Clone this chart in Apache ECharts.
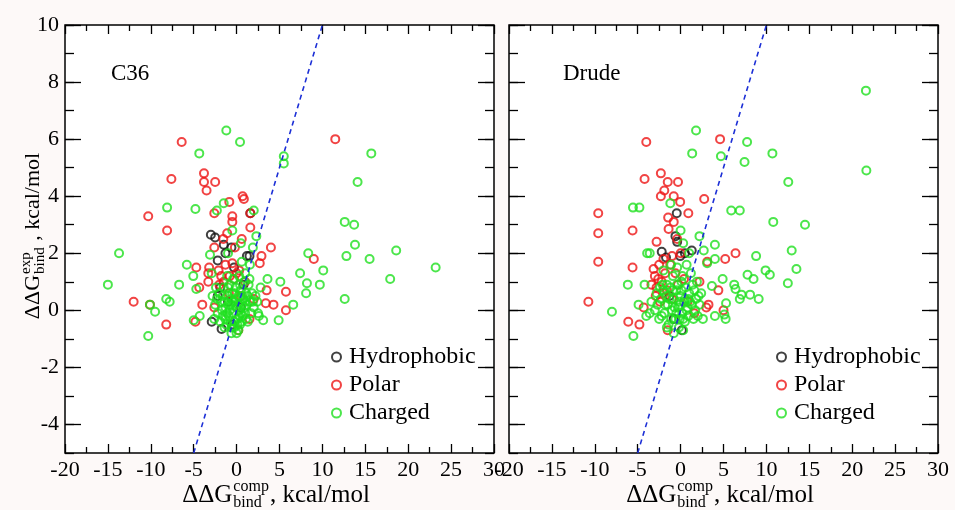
<!DOCTYPE html>
<html>
<head>
<meta charset="utf-8">
<script src="https://cdn.jsdelivr.net/npm/echarts@6/dist/echarts.min.js"></script>
<style>
html,body{margin:0;padding:0;background:#fdf9f8;}
#chart{width:955px;height:510px;}
</style>
</head>
<body>
<div id="chart"></div>
<script>
// ---------- data ----------
const panelTitles = ['C36', 'Drude'];
const seriesNames = ['Hydrophobic', 'Polar', 'Charged'];
const yLabelValues = [-4, -2, 0, 2, 4, 6, 8, 10];
const diagonal = [[-5, -5], [10, 10]];

const c36Hydrophobic = [
  [-2.5,2.55],[-1.3,2.0],[-0.6,2.2],[1.6,3.4],[1.5,1.9],[-2.9,-0.4],[-1.75,-0.65],[-1.9,0.8],
  [-2.2,1.75],[-3.0,2.65],[-1.5,2.3],[-0.3,1.5],[0.5,0.1],[-1.0,0.3],[-0.5,-0.5],[-2.2,0.5],[0.8,0.9],[1.2,1.9]
];
const c36Polar = [
  [-6.4,5.9],[11.5,6.0],[-7.6,4.6],[-3.8,4.8],[-3.8,4.5],[-2.5,4.5],[-3.5,4.2],[-10.3,3.3],[-8.1,2.8],
  [0.7,4.0],[0.85,3.9],[-0.85,3.8],[-2.6,3.4],[-0.5,3.3],[1.6,3.4],[-0.5,3.1],[1.6,2.9],[4.0,2.2],
  [9.0,1.8],[-12.0,0.3],[-8.2,-0.5],[-4.8,-0.4],[-4.7,1.5],[-3.2,1.5],[-4.35,0.8],[-3.3,1.0],[3.5,0.7],
  [5.75,0.65],[3.4,0.25],[4.3,0.2],[5.75,0.0],[-4.0,0.2],[0.2,-0.7],[-2.6,2.2],[-1.55,2.5],[0.6,2.5],
  [2.9,1.9],[2.7,1.65],[-0.5,1.65],[-2.1,1.4],[-0.8,1.2],[-3.3,1.3],[-10.1,0.2],
  [-1.5,1.0],[-0.3,1.1],[0.3,1.4],[-2.0,0.9],[-1.1,2.7],[-0.2,2.2],[1.0,1.0],[-1.3,1.6],[0.5,0.5],
  [-0.9,0.6],[2.0,0.4],[1.5,-0.3],[-2.6,0.1],[-1.8,1.2],[0.0,1.3]
];
const c36Charged = [
  [-1.2,6.3],[0.4,5.9],[-4.35,5.5],[5.5,5.4],[5.5,5.15],[15.7,5.5],[14.1,4.5],[-8.1,3.6],[-4.8,3.55],
  [-2.3,3.5],[-1.5,3.75],[2.0,3.5],[-0.5,2.8],[2.3,2.6],[0.5,2.35],[-13.7,2.0],[12.6,3.1],[13.7,3.0],
  [13.8,2.3],[12.8,1.9],[15.5,1.8],[18.6,2.1],[23.2,1.5],[17.9,1.1],[12.6,0.4],[8.35,2.0],[10.1,1.4],
  [7.4,1.3],[8.2,0.95],[9.7,0.9],[8.1,0.6],[6.6,0.2],[4.9,-0.35],[3.1,-0.35],[2.6,-0.2],[5.1,1.0],
  [3.6,1.1],[-15.0,0.9],[-10.3,-0.9],[-10.1,0.2],[-9.5,-0.05],[-8.2,0.4],[-7.8,0.3],[-6.7,0.9],
  [-5.8,1.6],[-5.05,1.2],[-4.7,0.75],[-5.0,-0.35],[-4.3,-0.2],[-3.1,1.95],[-1.0,2.0],[0.6,1.7],
  [1.55,1.6],[0.0,-0.8],[-2.9,1.3],[1.9,2.2],
  [-2.8,0.5],[-2.5,0.2],[-2.2,-0.1],[-2.0,0.6],[-1.8,0.3],[-1.6,-0.2],[-1.5,0.8],[-1.3,0.1],[-1.2,-0.5],
  [-1.0,0.5],[-0.9,-0.2],[-0.8,0.9],[-0.7,0.2],[-0.6,-0.6],[-0.5,0.6],[-0.4,-0.1],[-0.3,0.3],[-0.2,-0.4],
  [-0.1,0.8],[0.0,0.1],[0.1,-0.3],[0.2,0.5],[0.3,0.0],[0.4,-0.5],[0.5,0.7],[0.6,0.2],[0.7,-0.2],[0.8,0.4],
  [0.9,1.0],[1.0,-0.1],[1.1,0.6],[1.2,0.2],[1.3,-0.4],[1.4,0.9],[1.6,0.3],[1.8,0.6],[2.0,0.1],[2.2,0.5],
  [2.4,0.3],[-2.4,0.8],[-1.9,-0.4],[-1.1,1.2],[-0.4,1.1],[0.3,1.2],[1.0,1.3],[-0.6,-0.8],[0.2,-0.7],
  [-1.4,-0.6],[-0.8,0.0],[0.5,-0.1],[1.5,1.1],[2.8,0.8],[2.5,-0.1],
  [-2.6,-0.3],[-2.3,0.4],[-1.7,0.0],[-1.6,0.5],[-1.4,0.3],[-1.1,-0.1],[-1.0,0.8],[-0.9,0.2],[-0.7,-0.4],
  [-0.6,0.4],[-0.3,-0.6],[-0.2,0.6],[0.0,0.4],[0.1,-0.5],[0.2,0.2],[0.4,0.9],[0.6,-0.4],[0.7,0.5],
  [0.9,0.1],[1.1,-0.3],[1.3,0.5],[1.7,-0.1],[1.9,0.3],[-1.3,-0.3],[-0.4,0.3],[0.3,-0.2],[1.0,0.3]
];

const drudeHydrophobic = [
  [-0.45,3.4],[-0.4,2.4],[-2.2,2.05],[-1.7,1.85],[1.3,2.1],[0.15,-0.7],[-0.05,1.9],[-0.6,2.6],
  [0.5,2.0],[-1.3,0.5],[-0.8,-0.3]
];
const drudePolar = [
  [-4.0,5.9],[4.6,6.0],[-4.2,4.6],[-2.3,4.8],[-1.5,4.5],[-0.3,4.5],[-1.9,4.2],[-0.8,4.0],[-2.3,4.0],
  [-0.05,3.8],[2.75,3.9],[-9.6,3.4],[-9.6,2.7],[-9.6,1.7],[-5.6,2.8],[-5.6,1.5],[-2.8,2.4],[-1.45,3.25],
  [-0.8,3.1],[-1.4,2.85],[0.9,3.4],[5.2,1.8],[6.4,2.0],[3.1,1.7],[4.4,0.7],[3.25,0.2],[5.0,0.0],
  [-10.75,0.3],[-6.1,-0.4],[-4.8,-0.5],[-1.5,-0.7],[-3.15,1.45],[-2.6,1.1],[-2.8,0.8],[-2.0,0.6],
  [-4.3,0.1],[-1.0,1.9],[0.0,2.0],[-0.4,2.5],
  [-3.0,1.2],[-2.5,1.6],[-2.2,1.0],[-1.8,1.3],[-1.6,0.7],[-2.9,0.5],[-1.2,1.6],[-0.6,1.3],[-0.3,0.9],
  [0.4,1.1],[-2.4,0.3],[-1.0,0.4],[0.8,0.3],[-3.4,0.9],[-2.0,1.8],[1.6,-0.1],[2.2,1.0],[3.0,0.1]
];
const drudeCharged = [
  [21.6,7.7],[21.65,4.9],[1.8,6.3],[7.75,5.9],[1.35,5.5],[4.7,5.4],[7.45,5.2],[10.7,5.5],[12.55,4.5],
  [-5.55,3.6],[-4.8,3.6],[-1.2,3.75],[5.9,3.5],[6.9,3.5],[10.8,3.1],[14.5,3.0],[12.95,2.1],[13.5,1.45],
  [12.5,0.95],[8.8,1.9],[9.9,1.4],[10.4,1.25],[7.8,1.25],[8.5,1.1],[6.25,0.9],[6.4,0.75],[7.1,0.55],
  [8.1,0.55],[9.1,0.4],[6.9,0.4],[5.3,0.25],[5.25,-0.3],[5.1,-0.15],[4.0,-0.2],[4.9,1.1],[4.0,1.8],
  [4.0,2.3],[2.2,2.6],[0.0,2.8],[-6.15,0.9],[-4.2,0.9],[-8.0,-0.05],[-5.5,-0.9],[-4.9,0.2],[-4.0,-0.2],
  [-3.9,2.0],[-3.6,2.0],[-0.8,-0.8],[3.65,0.85],[2.7,2.1],[3.1,1.65],[0.3,2.35],
  [-3.4,0.3],[-3.0,0.0],[-2.8,0.6],[-2.5,-0.3],[-2.3,0.4],[-2.1,0.9],[-1.9,-0.1],[-1.7,0.5],[-1.5,0.2],
  [-1.4,-0.5],[-1.2,0.8],[-1.0,0.0],[-0.9,1.2],[-0.8,0.4],[-0.6,-0.3],[-0.5,0.7],[-0.3,0.1],[-0.2,-0.6],
  [0.0,0.5],[0.1,1.0],[0.2,-0.1],[0.4,0.3],[0.5,-0.4],[0.6,0.8],[0.8,0.1],[0.9,-0.2],[1.0,0.6],[1.2,1.3],
  [1.3,0.2],[1.5,-0.3],[1.6,0.7],[1.8,0.4],[2.0,-0.2],[2.2,0.2],[2.4,0.6],[2.6,-0.3],[-2.0,1.4],
  [-1.1,1.6],[-0.4,1.5],[0.7,1.6],[1.0,2.0],[-3.6,-0.1],[-1.6,-0.6],[0.3,-0.7],[-0.1,0.2],[1.9,1.0],
  [-2.7,0.2],[-2.2,-0.2],[-2.0,0.7],[-1.8,0.2],[-1.3,0.4],[-1.1,-0.3],[-0.9,0.7],[-0.7,0.1],[-0.5,-0.1],
  [-0.4,0.9],[-0.2,0.3],[0.1,0.7],[0.3,-0.3],[0.5,0.4],[0.7,0.0],[1.1,0.3],[1.4,0.9],[1.7,0.0],[2.1,0.5],
  [-1.6,0.9],[-0.1,-0.3],[0.9,0.4],[-2.4,0.8],[0.2,1.2]
];

// ---------- styling ----------
const FONT = '"Liberation Serif", "Times New Roman", serif';
const colors = {Hydrophobic: '#111111', Polar: '#ee1515', Charged: '#1fe01f'};
const panels = [
  {left: 65, title: panelTitles[0], titleX: 111, data: [c36Hydrophobic, c36Polar, c36Charged], legendLeft: 331},
  {left: 509, title: panelTitles[1], titleX: 563, data: [drudeHydrophobic, drudePolar, drudeCharged], legendLeft: 776}
];
const GW = 429, GH = 428, GT = 25;

const grid = [], xAxis = [], yAxis = [], series = [], legend = [], graphic = [];
const tickLine = {color: '#000', width: 1.3};

panels.forEach((p, g) => {
  grid.push({left: p.left, top: GT, width: GW, height: GH, show: true,
    backgroundColor: '#fff', borderColor: '#000', borderWidth: 1.5, containLabel: false});
  ['bottom', 'top'].forEach(pos => {
    xAxis.push({gridIndex: g, type: 'value', position: pos, min: -20, max: 30, interval: 5,
      axisLine: {show: false, onZero: false}, splitLine: {show: false},
      axisTick: {inside: true, length: 9, lineStyle: tickLine},
      minorTick: {show: true, splitNumber: 2, length: 6, lineStyle: tickLine},
      axisLabel: {show: pos === 'bottom', fontFamily: FONT, fontSize: 22, color: '#000', margin: 6,
        showMinLabel: true, showMaxLabel: true}
    });
  });
  ['left', 'right'].forEach(pos => {
    yAxis.push({gridIndex: g, type: 'value', position: pos, min: -5, max: 10,
      axisLine: {show: false, onZero: false}, splitLine: {show: false},
      axisTick: {inside: true, length: 16, customValues: yLabelValues, lineStyle: tickLine},
      axisLabel: {show: g === 0 && pos === 'left', customValues: yLabelValues,
        fontFamily: FONT, fontSize: 22, color: '#000', margin: 6}
    });
    yAxis.push({gridIndex: g, type: 'value', position: pos, min: -5, max: 10, interval: 1,
      axisLine: {show: false, onZero: false}, splitLine: {show: false},
      axisTick: {inside: true, length: 9, lineStyle: tickLine},
      axisLabel: {show: false}
    });
  });
  const xi = g * 2, yi = g * 4;
  seriesNames.forEach((name, k) => {
    series.push({name, type: 'scatter', xAxisIndex: xi, yAxisIndex: yi, data: p.data[k],
      symbol: 'circle', symbolSize: 8, silent: true, z: 2 + k,
      itemStyle: {color: 'rgba(0,0,0,0)', borderColor: colors[name], borderWidth: 2},
      emphasis: {disabled: true}});
  });
  series.push({type: 'line', xAxisIndex: xi, yAxisIndex: yi, data: diagonal, symbol: 'none',
    silent: true, z: 10, lineStyle: {color: '#1c2fd6', width: 1.6, type: [5, 4]}});
  legend.push({orient: 'vertical', left: p.legendLeft, top: 345, itemWidth: 9, itemHeight: 9,
    itemGap: 4, padding: 0, selectedMode: false,
    textStyle: {fontFamily: FONT, fontSize: 24, color: '#000', lineHeight: 24, padding: [0, 0, 0, 3]},
    data: seriesNames.map(name => ({name, icon: 'circle',
      itemStyle: {color: 'rgba(0,0,0,0)', borderColor: colors[name], borderWidth: 2}}))});
  graphic.push({type: 'text', x: p.titleX, y: 74,
    style: {text: p.title, fontFamily: FONT, fontSize: 23, fill: '#000', verticalAlign: 'middle'}});
});

// ---------- axis titles with stacked super/subscripts ----------
const ctx = document.createElement('canvas').getContext('2d');
function measure(t, s) { ctx.font = s + 'px "Liberation Serif"'; return ctx.measureText(t).width; }
function mathTitle(sup, sub, tail, big, small) {
  const w1 = measure('ΔΔG', big);
  const ws = Math.max(measure(sup, small), measure(sub, small));
  const tx = w1 + ws + 2;
  const total = tx + measure(tail, big);
  const st = (text, size) => ({text, fontFamily: FONT, fontSize: size, fill: '#000', verticalAlign: 'middle'});
  return {total, children: [
    {type: 'text', x: 0, y: 0, style: st('ΔΔG', big)},
    {type: 'text', x: w1 + 1, y: -big * 0.33, style: st(sup, small)},
    {type: 'text', x: w1 + 1, y: big * 0.33, style: st(sub, small)},
    {type: 'text', x: tx, y: 0, style: st(tail, big)}
  ]};
}
[276, 720].forEach(cx => {
  const t = mathTitle('comp', 'bind', ', kcal/mol', 25, 16);
  graphic.push({type: 'group', x: cx - t.total / 2, y: 495, children: t.children});
});
{
  const t = mathTitle('exp', 'bind', ' , kcal/mol', 22, 15);
  graphic.push({type: 'group', x: 33, y: 236 + t.total / 2, rotation: Math.PI / 2, children: t.children});
}

const chart = echarts.init(document.getElementById('chart'), null, {renderer: 'canvas'});
chart.setOption({animation: false, backgroundColor: '#fdf9f8', grid, xAxis, yAxis, series, legend, graphic});
</script>
</body>
</html>
